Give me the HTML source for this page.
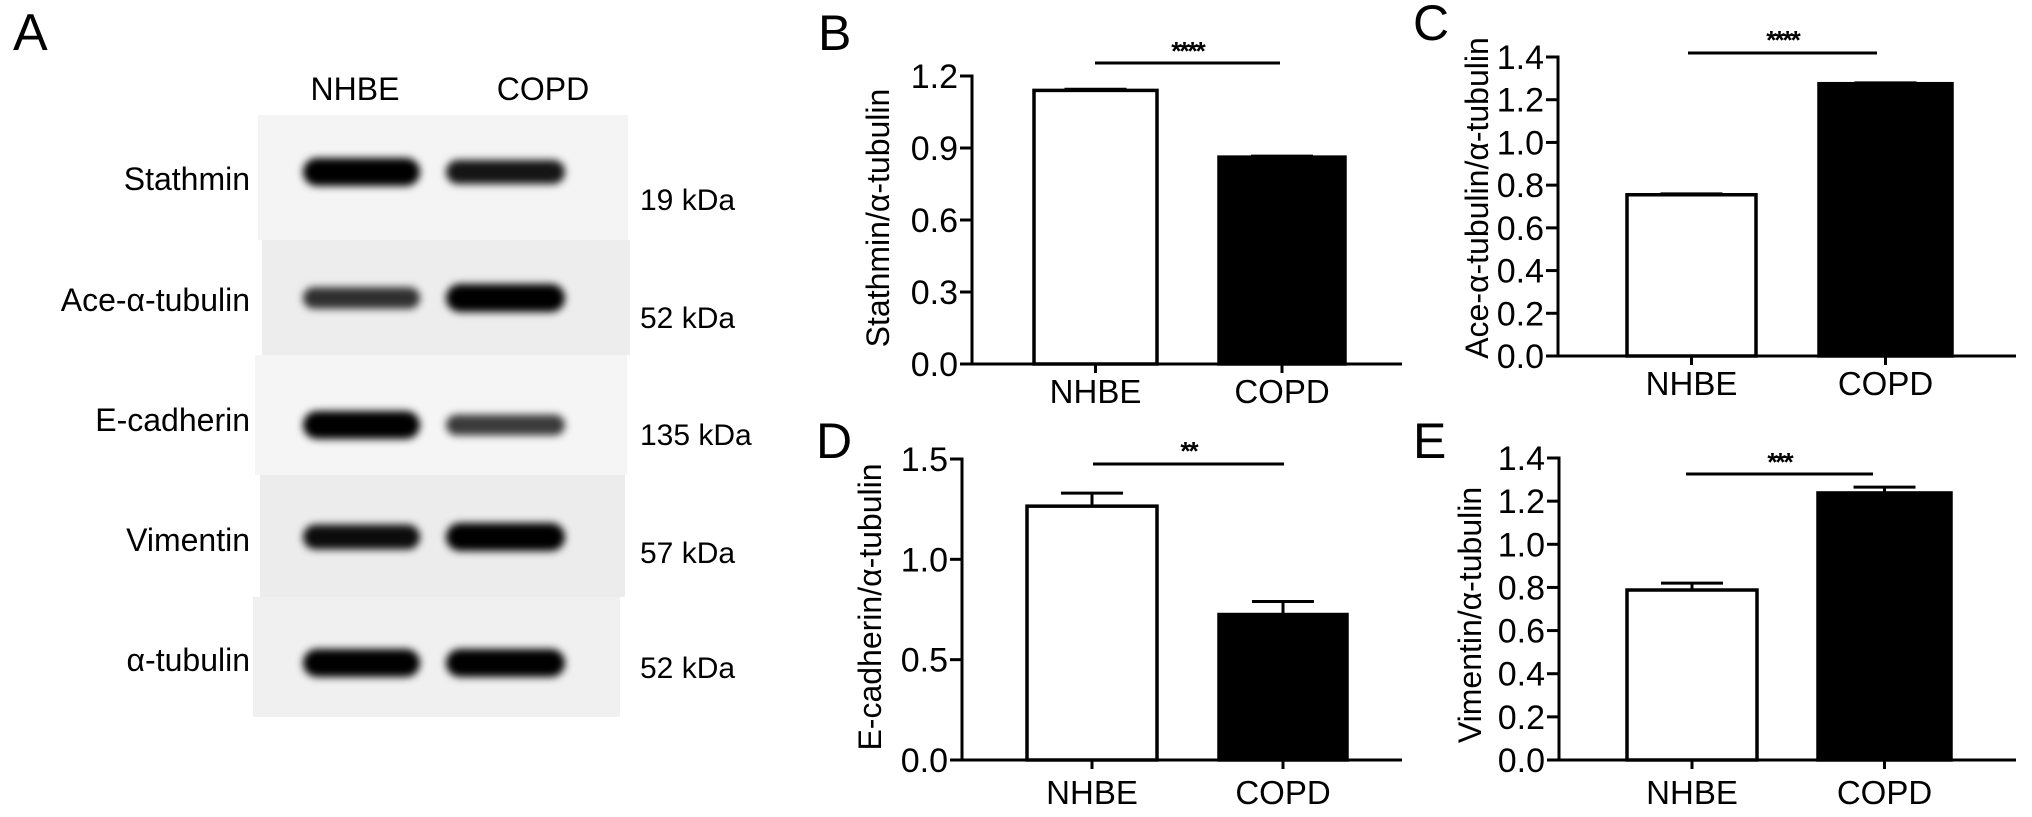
<!DOCTYPE html>
<html><head><meta charset="utf-8">
<style>
html,body{margin:0;padding:0;background:#fff;}
svg{display:block;font-family:"Liberation Sans",Arial,sans-serif;}
</style></head>
<body>
<svg id="fig" width="2032" height="817" viewBox="0 0 2032 817" xmlns="http://www.w3.org/2000/svg">
<defs>
<filter id="blur" x="-20%" y="-100%" width="140%" height="300%"><feGaussianBlur stdDeviation="4"/></filter>
</defs>
<g id="panelA">
  <text x="13" y="50" font-size="52">A</text>
  <text x="355" y="100" font-size="32" text-anchor="middle">NHBE</text>
  <text x="543" y="100" font-size="32" text-anchor="middle">COPD</text>
  <rect x="258" y="115" width="370" height="125" fill="#f4f4f4"/>
  <rect x="262" y="240" width="368" height="115" fill="#ededed"/>
  <rect x="255" y="355" width="372" height="120" fill="#f5f5f5"/>
  <rect x="260" y="475" width="365" height="122" fill="#ececec"/>
  <rect x="253" y="597" width="367" height="120" fill="#f0f0f0"/>
  <g id="bands"></g>
  <g font-size="32" text-anchor="end">
    <text x="250" y="190">Stathmin</text>
    <text x="250" y="311">Ace-α-tubulin</text>
    <text x="250" y="431">E-cadherin</text>
    <text x="250" y="551">Vimentin</text>
    <text x="250" y="671">α-tubulin</text>
  </g>
  <g font-size="30">
    <text x="640" y="210">19 kDa</text>
    <text x="640" y="328">52 kDa</text>
    <text x="640" y="445">135 kDa</text>
    <text x="640" y="563">57 kDa</text>
    <text x="640" y="678">52 kDa</text>
  </g>
</g>
<g id="charts"></g>
</svg>
<script>
// Chart data
const categories = ["NHBE", "COPD"];
const stathminValues = [1.14, 0.862];
const stathminErrors = [0.005, 0.004];
const aceTubulinValues = [0.755, 1.275];
const aceTubulinErrors = [0.004, 0.004];
const ecadherinValues = [1.265, 0.725];
const ecadherinErrors = [0.065, 0.065];
const vimentinValues = [0.788, 1.238];
const vimentinErrors = [0.032, 0.027];
const stathminTicks = ["0.0", "0.3", "0.6", "0.9", "1.2"];
const aceTubulinTicks = ["0.0", "0.2", "0.4", "0.6", "0.8", "1.0", "1.2", "1.4"];
const ecadherinTicks = ["0.0", "0.5", "1.0", "1.5"];
const vimentinTicks = ["0.0", "0.2", "0.4", "0.6", "0.8", "1.0", "1.2", "1.4"];
const significance = ["****", "****", "**", "***"];
// band intensities (0..1) for blot: [NHBE, COPD]
const bandIntensity = [[1.0, 0.75], [0.6, 1.0], [1.0, 0.55], [0.8, 1.0], [1.0, 1.0]];

const NS = "http://www.w3.org/2000/svg";
function mk(tag, attrs, parent) {
  const e = document.createElementNS(NS, tag);
  for (const k in attrs) e.setAttribute(k, attrs[k]);
  parent.appendChild(e);
  return e;
}

const bandsG = document.getElementById('bands');
const bandRowsY = [172, 298, 425, 537, 663];
const laneX = [[303, 420], [446, 565]];
bandIntensity.forEach((row, r) => {
  row.forEach((v, l) => {
    const h = 12 + 16 * v;
    const b = mk('rect', {x: laneX[l][0], y: bandRowsY[r] - h / 2, width: laneX[l][1] - laneX[l][0], height: h, rx: h / 2, fill: '#000', 'fill-opacity': Math.min(1, 0.35 + 0.75 * v), filter: 'url(#blur)'}, bandsG);
    
    
  });
});

const panels = [
  {letter: "B", lx: 818, ly: 50, ax: 972, y0: 364, yT: 76, max: 1.2, ticks: stathminTicks, vals: stathminValues, errs: stathminErrors, xEnd: 1402, bars: [[1034, 1157], [1219, 1345]], sigY: 63, sigX: [1095, 1280], starY: 60, labY: 403, title: "Stathmin/α-tubulin", tx: 878, ty: 218, sig: significance[0], name: "stathmin"},
  {letter: "C", lx: 1413, ly: 40, ax: 1558, y0: 356, yT: 57, max: 1.4, ticks: aceTubulinTicks, vals: aceTubulinValues, errs: aceTubulinErrors, xEnd: 2016, bars: [[1627, 1756], [1819, 1952]], sigY: 53, sigX: [1688, 1877], starY: 49, labY: 395, title: "Ace-α-tubulin/α-tubulin", tx: 1477, ty: 198, sig: significance[1], name: "ace-tubulin"},
  {letter: "D", lx: 816, ly: 458, ax: 962, y0: 760, yT: 459, max: 1.5, ticks: ecadherinTicks, vals: ecadherinValues, errs: ecadherinErrors, xEnd: 1402, bars: [[1027, 1157], [1219, 1347]], sigY: 464, sigX: [1093, 1284], starY: 460, labY: 804, title: "E-cadherin/α-tubulin", tx: 870, ty: 607, sig: significance[2], name: "ecadherin"},
  {letter: "E", lx: 1413, ly: 458, ax: 1559, y0: 760, yT: 458, max: 1.4, ticks: vimentinTicks, vals: vimentinValues, errs: vimentinErrors, xEnd: 2016, bars: [[1627, 1757], [1818, 1951]], sigY: 474, sigX: [1686, 1873], starY: 471, labY: 804, title: "Vimentin/α-tubulin", tx: 1470, ty: 615, sig: significance[3], name: "vimentin"}
];

const charts = document.getElementById('charts');
panels.forEach(p => {
  const g = mk('g', {}, charts);
  
  
  const yS = v => p.y0 - (v / p.max) * (p.y0 - p.yT);

  const L = mk('text', {x: p.lx, y: p.ly, 'font-size': 50}, g);
  L.textContent = p.letter;
  
  

  const T = mk('text', {x: 0, y: 0, 'font-size': 32, 'text-anchor': 'middle', transform: `translate(${p.tx + 11},${p.ty}) rotate(-90)`}, g);
  T.textContent = p.title;
  
  

  p.vals.forEach((v, i) => {
    const [x1, x2] = p.bars[i];
    const cx = (x1 + x2) / 2;
    const eTop = yS(v + p.errs[i]);
    const el = mk('line', {x1: cx, x2: cx, y1: yS(v), y2: eTop, stroke: '#000', 'stroke-width': 3}, g);
    
    
    const cap = mk('line', {x1: cx - 31, x2: cx + 31, y1: eTop, y2: eTop, stroke: '#000', 'stroke-width': 3}, g);
    
    
    const r = mk('rect', {x: x1, y: yS(v), width: x2 - x1, height: p.y0 - yS(v), fill: i === 0 ? '#fff' : '#000', stroke: '#000', 'stroke-width': 3.5}, g);
    
    
    const tk = mk('line', {x1: cx, x2: cx, y1: p.y0, y2: p.y0 + 9, stroke: '#000', 'stroke-width': 3}, g);
    
    
    const lb = mk('text', {x: cx, y: p.labY, 'font-size': 33, 'text-anchor': 'middle'}, g);
    lb.textContent = categories[i];
    
    
  });

  const ya = mk('line', {x1: p.ax, x2: p.ax, y1: p.yT - 1.5, y2: p.y0 + 1.5, stroke: '#000', 'stroke-width': 3}, g);
  
  
  const xa = mk('line', {x1: p.ax - 12, x2: p.xEnd, y1: p.y0, y2: p.y0, stroke: '#000', 'stroke-width': 3}, g);
  
  
  p.ticks.forEach(t => {
    const y = yS(parseFloat(t));
    const tl = mk('line', {x1: p.ax - 12, x2: p.ax, y1: y, y2: y, stroke: '#000', 'stroke-width': 3}, g);
    
    
    const tt = mk('text', {x: p.ax - 14, y: y + 12, 'font-size': 34, 'text-anchor': 'end'}, g);
    tt.textContent = t;
    
    
  });

  const sl = mk('line', {x1: p.sigX[0], x2: p.sigX[1], y1: p.sigY, y2: p.sigY, stroke: '#000', 'stroke-width': 3}, g);
  
  
  const st = mk('text', {x: (p.sigX[0] + p.sigX[1]) / 2, y: p.starY, 'font-size': 26, 'font-weight': 'bold', 'text-anchor': 'middle', 'letter-spacing': '-2'}, g);
  st.textContent = p.sig;
  
  
});
</script>
</body></html>
